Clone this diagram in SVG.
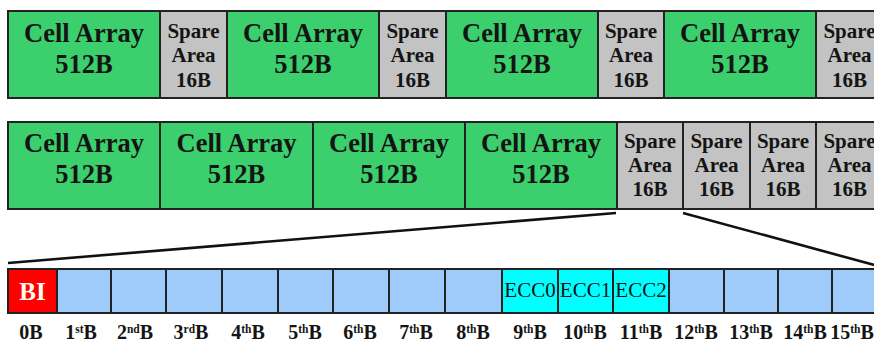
<svg xmlns="http://www.w3.org/2000/svg" width="874" height="342" viewBox="0 0 874 342">
<style>
.box{stroke:#222;stroke-width:2}
.cell{fill:#3bcf6d}
.spare{fill:#c3c3c3}
.byte{fill:#9fcbfa}
.ecc{fill:#00ffff}
.bi{fill:#ff0000}
text{font-family:"Liberation Serif","Times New Roman",serif;text-anchor:middle;fill:#141414}
.ct{font-weight:bold;font-size:26.5px}
.cn{font-weight:bold;font-size:26.5px}
.st{font-weight:bold;font-size:21px}
.et{font-size:21px}
.bt{font-weight:bold;font-size:25px;fill:#fffaf0}
.lb{font-weight:bold;font-size:20px}
.sup{font-size:11.5px}
.conn{stroke:#111;stroke-width:2.6;fill:none}
</style>
<rect width="874" height="342" fill="#fff"/>

<!-- Row 1 -->
<g id="r1-cell1"><rect class="box cell" x="8" y="11" width="152" height="87"/><text class="ct" x="84" y="42">Cell Array</text><text class="cn" x="84" y="73">512B</text></g>
<g id="r1-spare1"><rect class="box spare" x="160" y="11" width="67" height="87"/><text class="st" x="193.5" y="38">Spare</text><text class="st" x="193.5" y="62">Area</text><text class="st" x="193.5" y="87">16B</text></g>
<g id="r1-cell2"><rect class="box cell" x="227" y="11" width="152" height="87"/><text class="ct" x="303" y="42">Cell Array</text><text class="cn" x="303" y="73">512B</text></g>
<g id="r1-spare2"><rect class="box spare" x="379" y="11" width="67" height="87"/><text class="st" x="412.5" y="38">Spare</text><text class="st" x="412.5" y="62">Area</text><text class="st" x="412.5" y="87">16B</text></g>
<g id="r1-cell3"><rect class="box cell" x="446" y="11" width="152" height="87"/><text class="ct" x="522" y="42">Cell Array</text><text class="cn" x="522" y="73">512B</text></g>
<g id="r1-spare3"><rect class="box spare" x="598" y="11" width="66" height="87"/><text class="st" x="631" y="38">Spare</text><text class="st" x="631" y="62">Area</text><text class="st" x="631" y="87">16B</text></g>
<g id="r1-cell4"><rect class="box cell" x="664" y="11" width="152" height="87"/><text class="ct" x="740" y="42">Cell Array</text><text class="cn" x="740" y="73">512B</text></g>
<g id="r1-spare4"><rect class="box spare" x="816" y="11" width="67" height="87"/><text class="st" x="849.5" y="38">Spare</text><text class="st" x="849.5" y="62">Area</text><text class="st" x="849.5" y="87">16B</text></g>

<!-- Row 2 -->
<g id="r2-cell1"><rect class="box cell" x="8" y="122" width="152" height="87"/><text class="ct" x="84" y="152">Cell Array</text><text class="cn" x="84" y="183">512B</text></g>
<g id="r2-cell2"><rect class="box cell" x="160" y="122" width="153" height="87"/><text class="ct" x="236.5" y="152">Cell Array</text><text class="cn" x="236.5" y="183">512B</text></g>
<g id="r2-cell3"><rect class="box cell" x="313" y="122" width="152" height="87"/><text class="ct" x="389" y="152">Cell Array</text><text class="cn" x="389" y="183">512B</text></g>
<g id="r2-cell4"><rect class="box cell" x="465" y="122" width="152" height="87"/><text class="ct" x="541" y="152">Cell Array</text><text class="cn" x="541" y="183">512B</text></g>
<g id="r2-spare1"><rect class="box spare" x="617" y="122" width="66" height="87"/><text class="st" x="650" y="148">Spare</text><text class="st" x="650" y="172">Area</text><text class="st" x="650" y="196">16B</text></g>
<g id="r2-spare2"><rect class="box spare" x="683" y="122" width="67" height="87"/><text class="st" x="716.5" y="148">Spare</text><text class="st" x="716.5" y="172">Area</text><text class="st" x="716.5" y="196">16B</text></g>
<g id="r2-spare3"><rect class="box spare" x="750" y="122" width="66" height="87"/><text class="st" x="783" y="148">Spare</text><text class="st" x="783" y="172">Area</text><text class="st" x="783" y="196">16B</text></g>
<g id="r2-spare4"><rect class="box spare" x="816" y="122" width="67" height="87"/><text class="st" x="849.5" y="148">Spare</text><text class="st" x="849.5" y="172">Area</text><text class="st" x="849.5" y="196">16B</text></g>

<!-- Connectors -->
<g id="connectors">
<line class="conn" x1="616" y1="213" x2="8" y2="263"/>
<line class="conn" x1="683" y1="213" x2="878" y2="266"/>
</g>

<!-- Row 3: bytes -->
<g id="b0"><rect class="box bi" x="8" y="269" width="49" height="44"/><text class="bt" x="32.5" y="300">BI</text></g>
<g id="b1"><rect class="box byte" x="57" y="269" width="54" height="44"/></g>
<g id="b2"><rect class="box byte" x="111" y="269" width="55" height="44"/></g>
<g id="b3"><rect class="box byte" x="166" y="269" width="56" height="44"/></g>
<g id="b4"><rect class="box byte" x="222" y="269" width="56" height="44"/></g>
<g id="b5"><rect class="box byte" x="278" y="269" width="55" height="44"/></g>
<g id="b6"><rect class="box byte" x="333" y="269" width="56" height="44"/></g>
<g id="b7"><rect class="box byte" x="389" y="269" width="56" height="44"/></g>
<g id="b8"><rect class="box byte" x="445" y="269" width="57" height="44"/></g>
<g id="b9"><rect class="box ecc" x="502" y="269" width="56" height="44"/><text class="et" x="530" y="297">ECC0</text></g>
<g id="b10"><rect class="box ecc" x="558" y="269" width="55" height="44"/><text class="et" x="585.5" y="297">ECC1</text></g>
<g id="b11"><rect class="box ecc" x="613" y="269" width="56" height="44"/><text class="et" x="641" y="297">ECC2</text></g>
<g id="b12"><rect class="box byte" x="669" y="269" width="55" height="44"/></g>
<g id="b13"><rect class="box byte" x="724" y="269" width="54" height="44"/></g>
<g id="b14"><rect class="box byte" x="778" y="269" width="54" height="44"/></g>
<g id="b15"><rect class="box byte" x="832" y="269" width="56" height="44"/></g>

<!-- Byte labels -->
<g id="labels">
<text class="lb" x="31" y="339">0B</text>
<text class="lb" x="81" y="339">1<tspan class="sup" dy="-6">st</tspan><tspan dy="6">B</tspan></text>
<text class="lb" x="135" y="339">2<tspan class="sup" dy="-6">nd</tspan><tspan dy="6">B</tspan></text>
<text class="lb" x="191" y="339">3<tspan class="sup" dy="-6">rd</tspan><tspan dy="6">B</tspan></text>
<text class="lb" x="248" y="339">4<tspan class="sup" dy="-6">th</tspan><tspan dy="6">B</tspan></text>
<text class="lb" x="305" y="339">5<tspan class="sup" dy="-6">th</tspan><tspan dy="6">B</tspan></text>
<text class="lb" x="360" y="339">6<tspan class="sup" dy="-6">th</tspan><tspan dy="6">B</tspan></text>
<text class="lb" x="416" y="339">7<tspan class="sup" dy="-6">th</tspan><tspan dy="6">B</tspan></text>
<text class="lb" x="473" y="339">8<tspan class="sup" dy="-6">th</tspan><tspan dy="6">B</tspan></text>
<text class="lb" x="530" y="339">9<tspan class="sup" dy="-6">th</tspan><tspan dy="6">B</tspan></text>
<text class="lb" x="585" y="339">10<tspan class="sup" dy="-6">th</tspan><tspan dy="6">B</tspan></text>
<text class="lb" x="641" y="339">11<tspan class="sup" dy="-6">th</tspan><tspan dy="6">B</tspan></text>
<text class="lb" x="696" y="339">12<tspan class="sup" dy="-6">th</tspan><tspan dy="6">B</tspan></text>
<text class="lb" x="751" y="339">13<tspan class="sup" dy="-6">th</tspan><tspan dy="6">B</tspan></text>
<text class="lb" x="805" y="339">14<tspan class="sup" dy="-6">th</tspan><tspan dy="6">B</tspan></text>
<text class="lb" x="852" y="339">15<tspan class="sup" dy="-6">th</tspan><tspan dy="6">B</tspan></text>
</g>
</svg>
